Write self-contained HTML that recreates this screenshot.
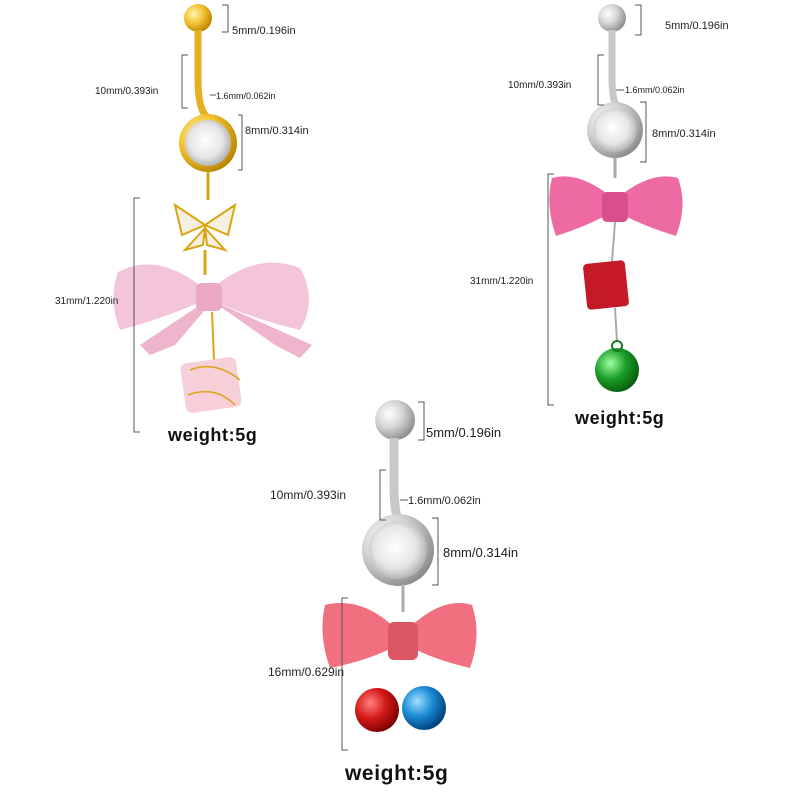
<!DOCTYPE html>
<html><head><meta charset="utf-8"><style>
html,body{margin:0;padding:0;background:#fff;}
svg{display:block}
text{font-family:"Liberation Sans",sans-serif;fill:#222}
.w{font-weight:bold;letter-spacing:0.6px;fill:#111}
</style></head><body>
<svg width="800" height="800" viewBox="0 0 800 800" xmlns="http://www.w3.org/2000/svg">
<defs>
<radialGradient id="gold" cx="35%" cy="35%" r="70%"><stop offset="0" stop-color="#fff6b0"/><stop offset="0.5" stop-color="#f3c230"/><stop offset="1" stop-color="#b98400"/></radialGradient>
<radialGradient id="silver" cx="35%" cy="35%" r="70%"><stop offset="0" stop-color="#ffffff"/><stop offset="0.5" stop-color="#d4d4d4"/><stop offset="1" stop-color="#8a8a8a"/></radialGradient>
<radialGradient id="gem" cx="45%" cy="45%" r="60%"><stop offset="0" stop-color="#ffffff"/><stop offset="0.6" stop-color="#e6e6e6"/><stop offset="1" stop-color="#a9a9a9"/></radialGradient>
<radialGradient id="red" cx="35%" cy="35%" r="70%"><stop offset="0" stop-color="#ff8080"/><stop offset="0.5" stop-color="#d41a1a"/><stop offset="1" stop-color="#7a0000"/></radialGradient>
<radialGradient id="blue" cx="35%" cy="35%" r="70%"><stop offset="0" stop-color="#9ee0ff"/><stop offset="0.5" stop-color="#1a8ad4"/><stop offset="1" stop-color="#003d7a"/></radialGradient>
<radialGradient id="green" cx="35%" cy="35%" r="70%"><stop offset="0" stop-color="#9effa0"/><stop offset="0.5" stop-color="#1ea02a"/><stop offset="1" stop-color="#035a0a"/></radialGradient>
</defs>

<!-- ===== Product 1 gold ===== -->
<circle cx="198" cy="18" r="14" fill="url(#gold)"/>
<path d="M198 30 L198 80 Q198 110 208 118" stroke="#e5b020" stroke-width="7" fill="none"/>
<circle cx="208" cy="143" r="29" fill="url(#gold)"/>
<circle cx="208" cy="143" r="23" fill="url(#gem)"/>
<line x1="208" y1="172" x2="208" y2="200" stroke="#d9a514" stroke-width="3"/>
<path d="M205 225 L175 205 L182 235 Z M205 225 L235 205 L228 235 Z M205 228 L185 250 L203 245 Z M205 228 L225 250 L207 245 Z" fill="#f6f0e0" stroke="#d9a514" stroke-width="2"/>
<line x1="205" y1="250" x2="205" y2="275" stroke="#d9a514" stroke-width="3"/>
<path d="M208 292 Q160 250 118 272 Q108 300 120 330 Q165 318 205 300 Z" fill="#f4c5da"/>
<path d="M208 292 Q255 250 300 268 Q318 300 300 330 Q250 318 212 300 Z" fill="#f4c5da"/>
<path d="M200 305 L140 345 L150 355 L175 345 L205 310 Z" fill="#eeb5cd"/>
<path d="M218 305 L275 345 L300 358 L312 345 L222 305 Z" fill="#eeb5cd"/>
<rect x="196" y="283" width="26" height="28" rx="6" fill="#e9a8c4"/>
<line x1="212" y1="312" x2="214" y2="360" stroke="#d9a514" stroke-width="2"/>
<rect x="183" y="360" width="56" height="50" rx="6" fill="#f7cfd9" transform="rotate(-8 211 385)"/>
<path d="M190 370 Q215 360 240 380 M188 395 Q215 385 235 405" stroke="#d9a514" stroke-width="1.5" fill="none"/>
<g stroke="#555" stroke-width="1" fill="none">
<path d="M222 5 H228 V32 H222"/>
<path d="M188 55 H182 V108 H188"/>
<line x1="210" y1="95" x2="216" y2="95"/>
<path d="M238 115 H242 V170 H238"/>
<path d="M140 198 H134 V432 H140"/>
</g>
<text x="232" y="34" font-size="11">5mm/0.196in</text>
<text x="95" y="94" font-size="10">10mm/0.393in</text>
<text x="216" y="99" font-size="9">1.6mm/0.062in</text>
<text x="245" y="134" font-size="11">8mm/0.314in</text>
<text x="55" y="304" font-size="10">31mm/1.220in</text>
<text class="w" x="168" y="441" font-size="18">weight:5g</text>

<!-- ===== Product 2 silver ===== -->
<circle cx="612" cy="18" r="14" fill="url(#silver)"/>
<path d="M612 30 L612 75 Q612 100 616 104" stroke="#c8c8c8" stroke-width="7" fill="none"/>
<circle cx="615" cy="130" r="28" fill="url(#silver)"/>
<circle cx="615" cy="130" r="22" fill="url(#gem)"/>
<line x1="615" y1="158" x2="615" y2="178" stroke="#aaa" stroke-width="3"/>
<path d="M615 200 Q580 170 552 178 Q545 205 556 236 Q590 225 612 212 Z" fill="#ee6aa3"/>
<path d="M615 200 Q650 170 678 178 Q688 205 676 236 Q640 225 618 212 Z" fill="#ee6aa3"/>
<rect x="602" y="192" width="26" height="30" rx="5" fill="#d94f8c"/>
<line x1="615" y1="222" x2="612" y2="262" stroke="#aaa" stroke-width="2"/>
<rect x="585" y="262" width="42" height="46" rx="4" fill="#c41a28" transform="rotate(-6 606 285)"/>
<line x1="615" y1="308" x2="617" y2="342" stroke="#aaa" stroke-width="2"/>
<circle cx="617" cy="370" r="22" fill="url(#green)"/>
<circle cx="617" cy="346" r="5" fill="none" stroke="#1a7a20" stroke-width="2"/>
<g stroke="#555" stroke-width="1" fill="none">
<path d="M635 5 H641 V35 H635"/>
<path d="M604 55 H598 V105 H604"/>
<line x1="616" y1="90" x2="624" y2="90"/>
<path d="M640 102 H646 V162 H640"/>
<path d="M554 174 H548 V405 H554"/>
</g>
<text x="665" y="29" font-size="11">5mm/0.196in</text>
<text x="508" y="88" font-size="10">10mm/0.393in</text>
<text x="625" y="93" font-size="9">1.6mm/0.062in</text>
<text x="652" y="137" font-size="11">8mm/0.314in</text>
<text x="470" y="284" font-size="10">31mm/1.220in</text>
<text class="w" x="575" y="424" font-size="18">weight:5g</text>

<!-- ===== Product 3 silver ===== -->
<circle cx="395" cy="420" r="20" fill="url(#silver)"/>
<path d="M394 438 L394 490 Q395 515 398 518" stroke="#c8c8c8" stroke-width="9" fill="none"/>
<circle cx="398" cy="550" r="36" fill="url(#silver)"/>
<circle cx="398" cy="550" r="29" fill="url(#gem)"/>
<line x1="403" y1="586" x2="403" y2="612" stroke="#aaa" stroke-width="3"/>
<path d="M402 635 Q365 595 325 605 Q318 635 330 668 Q370 660 398 645 Z" fill="#f0707f"/>
<path d="M402 635 Q440 595 472 605 Q482 635 470 668 Q435 660 406 645 Z" fill="#f0707f"/>
<rect x="388" y="622" width="30" height="38" rx="6" fill="#dd5666"/>
<circle cx="377" cy="710" r="22" fill="url(#red)"/>
<circle cx="424" cy="708" r="22" fill="url(#blue)"/>
<g stroke="#555" stroke-width="1" fill="none">
<path d="M418 402 H424 V440 H418"/>
<path d="M386 470 H380 V520 H386"/>
<line x1="400" y1="500" x2="408" y2="500"/>
<path d="M432 518 H438 V585 H432"/>
<path d="M348 598 H342 V750 H348"/>
</g>
<text x="426" y="437" font-size="13">5mm/0.196in</text>
<text x="270" y="499" font-size="12">10mm/0.393in</text>
<text x="408" y="504" font-size="11">1.6mm/0.062in</text>
<text x="443" y="557" font-size="13">8mm/0.314in</text>
<text x="268" y="676" font-size="12">16mm/0.629in</text>
<text class="w" x="345" y="780" font-size="21">weight:5g</text>
</svg>
</body></html>
